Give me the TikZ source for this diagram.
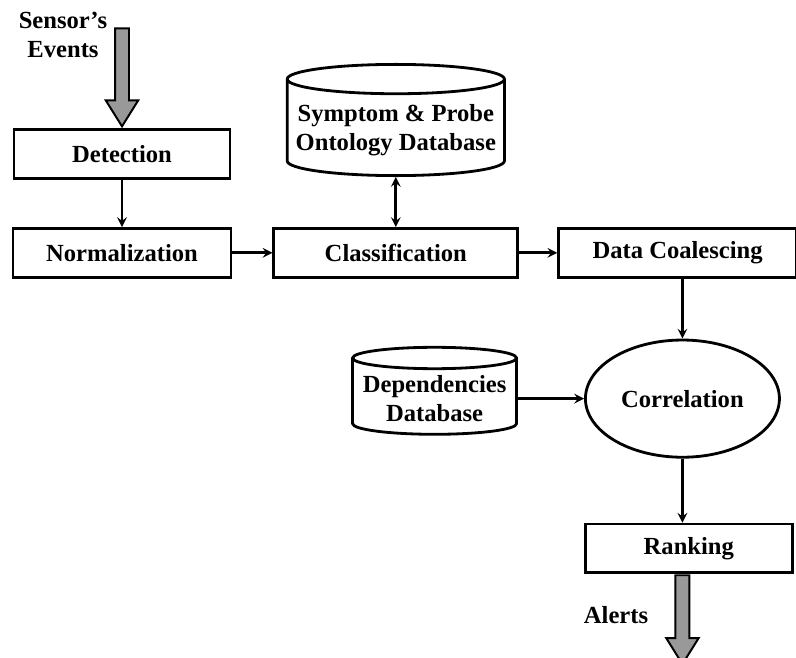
\documentclass[tikz,border=0pt]{standalone}
\usepackage{fontspec}
\setmainfont{Liberation Serif}
\usepackage{tikz}
\usetikzlibrary{shapes,arrows,positioning}

\begin{document}
\begin{tikzpicture}[
    font=\fontsize{17.5}{21}\selectfont\bfseries,
    node distance=1.2cm,
    block/.style={rectangle, draw, line width=2pt, minimum height=1.22cm, text centered},
    database/.style={cylinder, shape border rotate=90, draw, line width=2pt, aspect=0.14, align=center},
    process/.style={ellipse, draw, line width=2pt, minimum width=4.85cm, minimum height=2.93cm},
    bigarrow/.style={single arrow, draw, line width=1.4pt, fill=gray!80, rotate=-90, inner sep=0.15cm, text height=0pt, text depth=0pt, single arrow head extend=0.23cm, single arrow tip angle=64},
    flow/.style={line width=2pt,->,>=stealth}
]
\useasboundingbox (0,0) rectangle (19.9,-16.425);

\node[block, minimum width=5.4cm] (detect) at (3.05,-3.85) {Detection};
\node[block, minimum width=5.45cm, below=1.18cm of detect] (norm) {Normalization};
\node[block, minimum width=6.1cm, right=1.0cm of norm] (classify) {Classification};
\node[block, minimum width=5.95cm, right=0.95cm of classify] (coalesce) {Data Coalescing};
\node[database, minimum width=5.43cm, minimum height=2.78cm, above=1.25cm of classify] (symdb) {Symptom \& Probe\\Ontology Database};
\node[process, below=1.5cm of coalesce, xshift=0.12cm] (correl) {Correlation};
\node[database, minimum width=4.1cm, minimum height=2.175cm, left=1.65cm of correl] (depdb) {Dependencies\\Database};
\node[block, minimum width=5.175cm, below=1.6cm of correl, xshift=0.16cm] (rank) {Ranking};

\node[align=center] (sensor) at (1.575,-0.875) {Sensor's\\Events};
\node (alerts) at (15.4,-15.375) {Alerts};
\node[bigarrow, minimum height=2.45cm, anchor=tip] (inarrow) at (detect.north) {};
\node[bigarrow, minimum height=2.22cm, anchor=tail] (outarrow) at (correl.south |- rank.south) {};

\draw[flow] (detect) -- (norm);
\draw[flow] (norm) -- (classify);
\draw[flow] (classify) -- (coalesce);
\draw[flow, <->] (symdb.south) -- (symdb.south |- classify.north);
\draw[flow] (correl.north |- coalesce.south) -- (correl.north);
\draw[flow] (depdb.east |- correl.west) -- (correl.west);
\draw[flow] (correl.south) -- (correl.south |- rank.north);

\end{tikzpicture}
\end{document}
